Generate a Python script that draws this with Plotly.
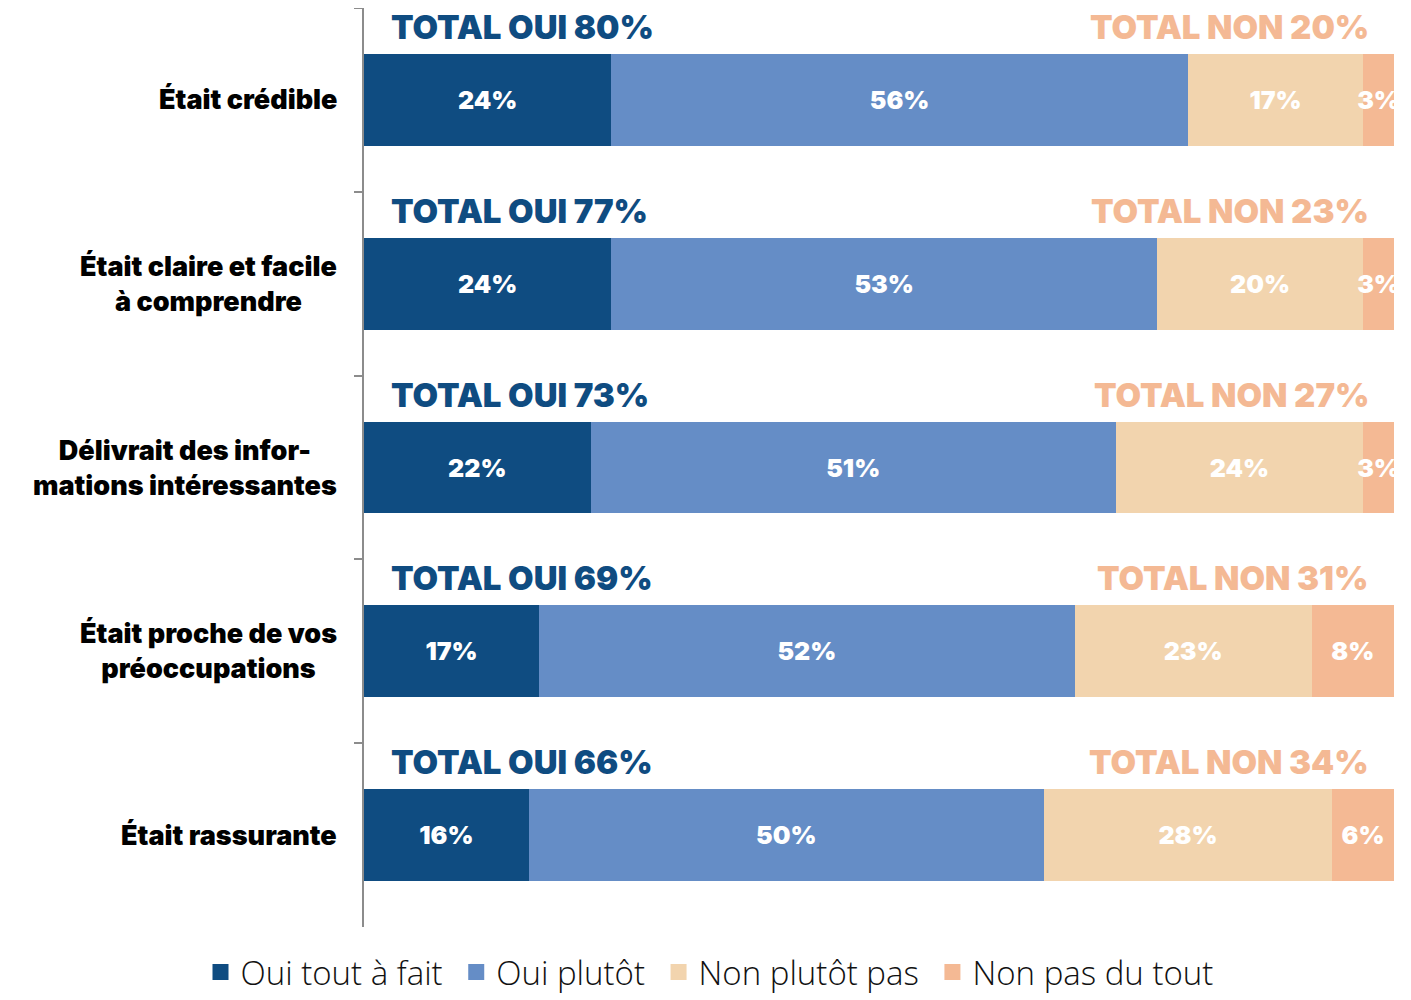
import plotly.graph_objects as go

categories = ["Était crédible", "Était claire et facile<br>à comprendre",
              "Délivrait des infor-<br>mations intéressantes",
              "Était proche de vos<br>préoccupations", "Était rassurante"]
series_names = ["Oui tout à fait", "Oui plutôt", "Non plutôt pas", "Non pas du tout"]
oui_tout = [24, 24, 22, 17, 16]
oui_plutot = [56, 53, 51, 52, 50]
non_plutot = [17, 20, 24, 23, 28]
non_pas = [3, 3, 3, 8, 6]
total_oui = [80, 77, 73, 69, 66]
total_non = [20, 23, 27, 31, 34]

colors = ["#0f4c81", "#658dc6", "#f2d4ae", "#f4b994"]
BOLD = "Inter"
PAD = "\u00a0"

fig = go.Figure()
for name, vals, col in zip(series_names, [oui_tout, oui_plutot, non_plutot, non_pas], colors):
    fig.add_trace(go.Bar(
        y=categories, x=vals, name=name, orientation="h",
        marker=dict(color=col, line=dict(width=0)),
        width=0.5, showlegend=False,
        text=[f"{v}%" for v in vals], textposition="inside",
        insidetextanchor="middle", textangle=0, constraintext="none",
        textfont=dict(family=BOLD, size=25, color="white", weight=900),
        cliponaxis=True, hoverinfo="skip",
    ))
for i, (name, col) in enumerate(zip(series_names, colors)):
    fig.add_trace(go.Scatter(
        x=[None], y=[None], name=name + (PAD if i < len(series_names) - 1 else ""),
        mode="markers",
        marker=dict(symbol="square", size=19, color=col), showlegend=True))

annotations = []
for cat in categories:
    annotations.append(dict(
        x=0, xref="paper", y=cat, yref="y", xanchor="right", yanchor="middle",
        xshift=-25, text=cat, showarrow=False, align="center",
        font=dict(family=BOLD, size=27, color="#000000", weight=900)))
for cat, to, tn in zip(categories, total_oui, total_non):
    annotations.append(dict(
        x=2.4, xref="x", y=cat, yref="y", xanchor="left", yanchor="middle",
        yshift=73, text=f"TOTAL OUI {to}%", showarrow=False,
        font=dict(family=BOLD, size=33, color="#0f4c81", weight=900)))
    annotations.append(dict(
        x=97.8, xref="x", y=cat, yref="y", xanchor="right", yanchor="middle",
        yshift=73, text=f"TOTAL NON {tn}%", showarrow=False,
        font=dict(family=BOLD, size=33, color="#f4b994", weight=900)))

fig.update_layout(
    barmode="stack", width=1403, height=992,
    margin=dict(l=356, r=17, t=0, b=73, autoexpand=False),
    plot_bgcolor="white", paper_bgcolor="white",
    showlegend=True,
    legend=dict(orientation="h", x=0.5, xref="container", xanchor="center",
                y=0.0, yref="container", yanchor="bottom",
                traceorder="normal",
                font=dict(family="Open Sans", size=33, color="#111111", weight=300),
                itemwidth=30, tracegroupgap=0),
    annotations=annotations,
    xaxis=dict(range=[0, 100], visible=False, fixedrange=True),
    yaxis=dict(categoryorder="array", categoryarray=categories,
               range=[4.5, -0.5], showticklabels=False,
               showline=True, linecolor="#8c8c8c", linewidth=2,
               ticks="outside", ticklen=8, tickcolor="#8c8c8c", tickwidth=2,
               tickson="boundaries", showgrid=False, zeroline=False),
)

fig.write_html("out.html")
